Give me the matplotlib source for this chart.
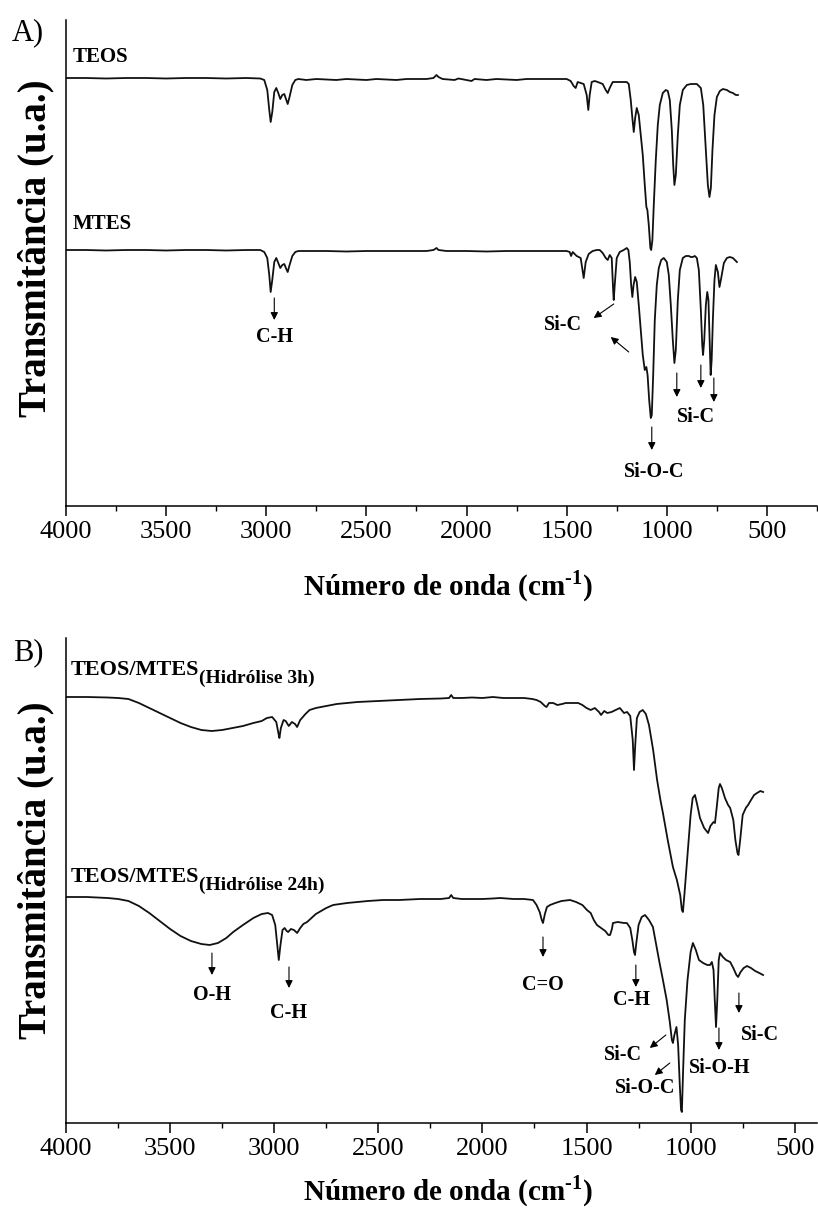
import matplotlib
matplotlib.use('Agg')
import matplotlib.pyplot as plt
from matplotlib.ticker import MultipleLocator

plt.rcParams['font.family'] = ['Liberation Serif', 'DejaVu Serif']
plt.rcParams['mathtext.fontset'] = 'custom'
plt.rcParams['mathtext.rm'] = 'Liberation Serif:bold'
plt.rcParams['mathtext.bf'] = 'Liberation Serif:bold'

# ---------------- data (wavenumber cm-1, transmittance a.u.) ----------------
teos_wn = [4000, 3900, 3800, 3700, 3600, 3500, 3400, 3300, 3200, 3100, 3030, 3010, 2995, 2985, 2978, 2970,
           2960, 2950, 2940, 2930, 2920, 2910, 2900, 2893, 2885, 2870, 2855, 2840, 2800, 2750, 2700, 2650,
           2600, 2550, 2500, 2450, 2400, 2350, 2300, 2250, 2200, 2165, 2150, 2140, 2120, 2060, 2040, 1975,
           1960, 1900, 1850, 1800, 1750, 1700, 1650, 1600, 1550, 1500, 1480, 1465, 1455, 1445, 1430, 1415,
           1400, 1392, 1385, 1375, 1360, 1345, 1320, 1305, 1295, 1285, 1270, 1250, 1220, 1200, 1190, 1180,
           1172, 1165, 1158, 1150, 1140, 1130, 1120, 1110, 1102, 1097, 1090, 1082, 1078, 1072, 1065, 1055,
           1045, 1035, 1020, 1005, 995, 985, 975, 968, 962, 955, 945, 935, 920, 900, 880, 850, 830, 818,
           805, 795, 787, 780, 772, 762, 750, 735, 720, 700, 685, 670, 655, 645]
teos_t = [428, 428, 427.5, 428, 428, 427.5, 428, 428, 427.5, 428, 427.5, 426, 416, 396, 384, 394,
          414, 418, 413, 407, 411, 412, 406, 402, 408, 421, 426, 427, 426, 427, 426.5, 426,
          427, 426.5, 426, 427, 426.5, 426, 427, 427, 427, 428, 431, 429, 427, 426, 427.5, 425,
          427, 426, 427, 426.5, 426, 427, 427, 427, 427, 427, 425, 420, 418, 424, 423, 422,
          411, 396, 411, 424, 425, 424, 422, 416, 413, 418, 424, 424, 424, 424, 422, 406,
          388, 374, 388, 398, 391, 371, 351, 321, 299, 296, 281, 258, 256, 266, 301, 346,
          381, 401, 413, 416, 415, 406, 376, 341, 321, 331, 371, 401, 416, 421, 422, 422, 418, 401,
          356, 321, 309, 318, 356, 391, 409, 415, 417, 416, 414, 413, 411, 411]

mtes_wn = [4000, 3900, 3800, 3700, 3600, 3500, 3400, 3300, 3200, 3100, 3030, 3010, 2995, 2985, 2978, 2970,
           2960, 2950, 2940, 2930, 2920, 2910, 2900, 2893, 2885, 2870, 2855, 2840, 2800, 2700, 2600, 2500,
           2400, 2300, 2200, 2165, 2150, 2140, 2100, 2000, 1900, 1800, 1700, 1600, 1500, 1485, 1478, 1470,
           1450, 1430, 1415, 1405, 1390, 1370, 1350, 1335, 1320, 1305, 1295, 1285, 1275, 1268, 1265, 1260,
           1250, 1235, 1215, 1200, 1192, 1185, 1178, 1172, 1166, 1158, 1150, 1140, 1130, 1120, 1110, 1102,
           1096, 1088, 1080, 1075, 1068, 1060, 1050, 1040, 1028, 1015, 1000, 990, 980, 970, 962, 955,
           945, 935, 920, 905, 890, 880, 870, 860, 850, 840, 830, 823, 819, 813, 805, 798, 792, 786, 781,
           776, 770, 762, 755, 745, 737, 730, 715, 700, 685, 670, 660, 650]
mtes_t = [256, 256, 255.5, 256, 256, 255.5, 256, 256, 255.5, 256, 256, 254, 248, 231, 214, 226,
          244, 248, 243, 238, 241, 242, 237, 234, 240, 250, 254, 255, 255, 255, 254.5, 255,
          255, 255, 255, 256, 258, 256, 255, 255, 254.5, 255, 255, 255, 255, 254, 250, 254,
          250, 248, 228, 244, 252, 255, 256, 256, 253, 248, 246, 251, 248, 216, 206, 221,
          248, 254, 256, 258, 256, 244, 221, 209, 221, 229, 224, 201, 176, 151, 136, 139,
          131, 106, 88, 91, 131, 186, 221, 238, 246, 248, 244, 231, 201, 166, 143, 156,
          206, 236, 248, 250, 250, 249, 249, 250, 248, 236, 196, 161, 151, 166, 201, 214, 206, 166, 131,
          146, 186, 226, 241, 234, 219, 226, 243, 248, 249, 248, 246, 244]

h3_wn = [4000, 3900, 3800, 3750, 3700, 3650, 3600, 3550, 3500, 3450, 3400, 3350, 3300, 3250, 3200, 3150,
         3100, 3060, 3035, 3010, 2990, 2980, 2975, 2968, 2955, 2945, 2930, 2915, 2900, 2890, 2875, 2850,
         2830, 2800, 2750, 2700, 2600, 2500, 2400, 2300, 2200, 2160, 2150, 2140, 2100, 2050, 2000, 1950,
         1900, 1850, 1800, 1760, 1740, 1720, 1700, 1692, 1680, 1660, 1640, 1617, 1600, 1570, 1540, 1520,
         1500, 1480, 1460, 1440, 1430, 1415, 1400, 1380, 1360, 1340, 1320, 1305, 1290, 1278, 1272, 1266,
         1258, 1245, 1230, 1215, 1200, 1180, 1161, 1145, 1133, 1110, 1085, 1066, 1050, 1042, 1037, 1030,
         1015, 1000, 990, 979, 968, 955, 935, 916, 905, 890, 883, 875, 865, 859, 850, 835, 820, 810,
         795, 785, 775, 770, 762, 750, 735, 724, 710, 695, 681, 665, 652]
h3_t = [426, 426, 425.5, 425, 424, 420, 415, 410, 405, 400, 396, 393, 392, 393, 395, 397,
        400, 402, 405, 406, 401, 390, 385, 395, 403, 402, 397, 401, 399, 396, 403, 409,
        413, 415, 417, 419, 421, 422, 423, 424, 424.5, 425, 428, 425, 425, 425.5, 425, 426,
        425, 425, 425, 424, 423, 421, 417, 416, 420, 420, 418, 419, 420, 420, 420, 418,
        415, 413, 415, 411, 408, 412, 410, 411, 413, 415, 410, 411, 407, 383, 353, 378,
        405, 411, 413, 409, 398, 373, 343, 323, 310, 283, 256, 243, 228, 213, 211, 228,
        268, 308, 325, 328, 318, 305, 295, 290, 297, 301, 300, 315, 335, 339, 335, 325, 318, 315,
        303, 283, 270, 268, 283, 308, 315, 318, 323, 328, 330, 332, 331]

h24_wn = [4000, 3900, 3800, 3750, 3700, 3650, 3600, 3550, 3500, 3450, 3400, 3350, 3310, 3270, 3230, 3197,
          3150, 3100, 3060, 3030, 3010, 2995, 2985, 2978, 2970, 2960, 2950, 2940, 2933, 2920, 2905, 2890,
          2875, 2860, 2842, 2800, 2750, 2717, 2650, 2600, 2550, 2477, 2400, 2300, 2200, 2160, 2150, 2140,
          2100, 2000, 1950, 1915, 1850, 1800, 1757, 1740, 1725, 1715, 1709, 1700, 1690, 1675, 1650, 1620,
          1579, 1550, 1520, 1498, 1480, 1465, 1450, 1430, 1410, 1395, 1387, 1378, 1373, 1350, 1320, 1306,
          1290, 1280, 1272, 1267, 1262, 1250, 1235, 1219, 1200, 1181, 1165, 1150, 1133, 1115, 1100, 1090,
          1085, 1078, 1068, 1060, 1052, 1046, 1042, 1036, 1028, 1015, 1000, 989, 975, 960, 940, 920, 907,
          898, 890, 884, 878, 872, 865, 859, 845, 830, 810, 795, 780, 772, 760, 745, 729, 710, 690, 670, 652]
h24_t = [226, 226, 225, 224, 222, 217, 210, 202, 194, 187, 182, 179, 178, 180, 185, 191,
         198, 205, 209, 210, 208, 198, 178, 163, 178, 193, 195, 192, 191, 194, 193, 190,
         195, 199, 201, 209, 215, 218, 220, 221, 222, 223, 223, 224, 224, 225, 228, 225,
         224, 224, 224.5, 225, 224, 224, 223, 218, 211, 203, 200, 209, 216, 218, 220, 222,
         223, 221, 218, 213, 210, 203, 198, 195, 192, 188, 188, 194, 200, 201, 200, 200,
         195, 183, 171, 168, 178, 198, 206, 208, 203, 196, 178, 161, 143, 123, 101, 83,
         80, 88, 96, 78, 38, 13, 11, 53, 103, 143, 171, 180, 173, 163, 160, 158, 158,
         161, 153, 123, 96, 123, 163, 170, 166, 163, 161, 155, 148, 146, 151, 155, 157, 155, 152, 150, 148]

xticks = [4000, 3500, 3000, 2500, 2000, 1500, 1000, 500]

# ---------------- figure ----------------
W, H = 818, 1209
fig = plt.figure(figsize=(W / 100, H / 100), dpi=100)
axA = fig.add_axes([66 / W, 1 - 506 / H, (817 - 66) / W, (506 - 20) / H])
axB = fig.add_axes([66 / W, 1 - 1123 / H, (817 - 66) / W, (1123 - 638) / H])

line_kw = dict(color='#111111', lw=1.3, solid_joinstyle='round')
axA.plot(teos_wn, teos_t, **line_kw)
axA.plot(mtes_wn, mtes_t, **line_kw)
axB.plot(h3_wn, h3_t, **line_kw)
axB.plot(h24_wn, h24_t, **line_kw)

axA.set_xlim(4000, 250)
axA.set_ylim(0, 486)
axB.set_xlim(4000, 393)
axB.set_ylim(0, 485)

for ax in (axA, axB):
    for s in ('top', 'right'):
        ax.spines[s].set_visible(False)
    for s in ('left', 'bottom'):
        ax.spines[s].set_linewidth(1.1)
    ax.set_yticks([])
    ax.set_xticks(xticks)
    ax.xaxis.set_minor_locator(MultipleLocator(250))
    ax.tick_params(axis='x', which='major', direction='out', length=7, width=1.1,
                   labelsize=19, pad=4)
    ax.tick_params(axis='x', which='minor', direction='out', length=3.8, width=1.0)
    ax.set_xlabel('Número de onda (cm$^{\\text{-1}}$)', fontsize=21, fontweight='bold')
    ax.set_ylabel('Transmitância (u.a.)', fontsize=28, fontweight='bold')

axA.yaxis.set_label_coords(-0.016, (506 - 248) / 486)
axB.yaxis.set_label_coords(-0.016, (1123 - 870) / 485)
axA.xaxis.set_label_coords(0.5087, -(595 - 506) / 486)
axA.xaxis.label.set_verticalalignment('baseline')
axB.xaxis.set_label_coords(0.5087, -(1200 - 1123) / 485)
axB.xaxis.label.set_verticalalignment('baseline')

fig.text(12 / W, 1 - 40 / H, 'A)', fontsize=22, va='baseline', ha='left')
fig.text(13 / W, 1 - 660 / H, 'B)', fontsize=22, va='baseline', ha='left')

# series labels
lab_kw = dict(fontsize=15, fontweight='bold', ha='left', va='baseline')
axA.text(3965, 444, 'TEOS', **lab_kw)
axA.text(3965, 277, 'MTES', **lab_kw)


def sub_label(ax, x, y, main, sub):
    t = ax.text(x, y, main, fontsize=16, fontweight='bold', ha='left', va='baseline')
    ax.annotate(sub, xy=(1.0, 0.52), xycoords=t, fontsize=14, fontweight='bold',
                ha='left', va='top')


sub_label(axB, 3976, 448, 'TEOS/MTES', '(Hidrólise 3h)')
sub_label(axB, 3976, 241, 'TEOS/MTES', '(Hidrólise 24h)')

arrow = dict(arrowstyle='-|>', color='black', lw=0.8, mutation_scale=11, shrinkA=0, shrinkB=0)
ann_fs = 14.5


def arr(ax, x0, y0, x1, y1):
    ax.annotate('', xy=(x1, y1), xytext=(x0, y0), arrowprops=arrow)


def lab(ax, x, y, s):
    ax.text(x, y, s, fontsize=ann_fs, fontweight='bold', ha='center', va='center')


# panel A annotations
arr(axA, 2960, 208, 2960, 186)
lab(axA, 2960, 169, 'C-H')
arr(axA, 1265, 202, 1365, 188)
lab(axA, 1520, 181, 'Si-C')
arr(axA, 1190, 154, 1280, 169)
arr(axA, 1075, 79, 1075, 56)
lab(axA, 1065, 34, 'Si-O-C')
arr(axA, 950, 133, 950, 109)
arr(axA, 830, 141, 830, 118)
arr(axA, 765, 128, 765, 104)
lab(axA, 855, 89, 'Si-C')

# panel B annotations
arr(axB, 3299, 170, 3299, 148)
lab(axB, 3299, 128, 'O-H')
arr(axB, 2929, 156, 2929, 135)
lab(axB, 2929, 110, 'C-H')
arr(axB, 1709, 186, 1709, 166)
lab(axB, 1709, 138, 'C=O')
arr(axB, 1263, 158, 1263, 136)
lab(axB, 1282, 123, 'C-H')
arr(axB, 1119, 88, 1196, 75)
lab(axB, 1325, 68, 'Si-C')
arr(axB, 1100, 60, 1172, 48)
lab(axB, 1220, 35, 'Si-O-C')
arr(axB, 864, 95, 864, 73)
lab(axB, 860, 55, 'Si-O-H')
arr(axB, 768, 130, 768, 110)
lab(axB, 667, 88, 'Si-C')

fig.savefig('out.png', dpi=100, facecolor='white')
